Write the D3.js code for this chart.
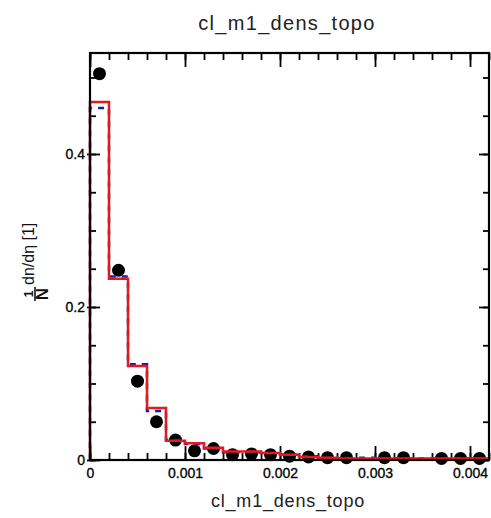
<!DOCTYPE html>
<html>
<head>
<meta charset="utf-8">
<script src="https://cdn.jsdelivr.net/npm/d3@7"></script>
<style>
  body { margin: 0; background: #fff; }
  svg { display: block; font-family: "Liberation Sans", Arial, Helvetica, sans-serif; }
</style>
</head>
<body>
<div id="chart"></div>
<script>
// bornes basses des bins (largeur 0.0002)
const binStarts = [0, 0.0002, 0.0004, 0.0006, 0.0008, 0.0010, 0.0012, 0.0014, 0.0016, 0.0018,
  0.0020, 0.0022, 0.0024, 0.0026, 0.0028, 0.0030, 0.0032, 0.0034, 0.0036, 0.0038, 0.0040];
const binWidth = 0.0002;

// histogramme rouge (trait plein)
const redValues = [0.468, 0.237, 0.123, 0.068, 0.025, 0.022, 0.016, 0.011, 0.011, 0.009,
  0.007, 0.004, 0.003, 0.002, 0.002, 0.002, 0.002, 0.002, 0.002, 0.002, 0.002];

// histogramme bleu (tirets)
const blueValues = [0.460, 0.240, 0.125, 0.064, 0.026, 0.021, 0.015, 0.010, 0.010, 0.009,
  0.007, 0.005, 0.003, 0.002, 0.003, 0.002, 0.002, 0.002, 0.002, 0.002, 0.002];

// points noirs (données), null = pas de point
const dataValues = [0.505, 0.248, 0.103, 0.050, 0.026, 0.012, 0.015, 0.007, 0.008, 0.007,
  0.005, 0.004, 0.003, 0.003, null, 0.003, 0.003, null, 0.002, 0.002, 0.002];

const xTicksMajor = [0, 0.001, 0.002, 0.003, 0.004];
const yTicksMajor = [0, 0.2, 0.4];

const title = "cl_m1_dens_topo";
const xTitle = "cl_m1_dens_topo";

//---------------------------------------------------------------------------------------

const W = 491, H = 518;
const plot = { left: 90, right: 489, top: 53, bottom: 460 };

const svg = d3.select("#chart")
  .append("svg")
  .attr("width", W)
  .attr("height", H);

const x = d3.scaleLinear().domain([0, 0.0042]).range([plot.left, plot.right]);
const y = d3.scaleLinear().domain([0, 0.532]).range([plot.bottom, plot.top]);

const xMinor = d3.range(0, 0.00421, 0.0002);
const yMinor = d3.range(0, 0.531, 0.05);

const fmtX = d => d === 0 ? "0" : d3.format(".3f")(d);
const fmtY = d => d === 0 ? "0" : d3.format(".1f")(d);

// axes : ticks vers l'intérieur
function drawAxis(axisFn, scale, ticks, size, transform, fmt) {
  const g = svg.append("g")
    .attr("transform", transform)
    .call(axisFn(scale).tickValues(ticks).tickSize(size).tickSizeOuter(0).tickFormat(fmt || ""));
  g.select(".domain").remove();
  g.selectAll(".tick line").attr("stroke", "#000").attr("stroke-width", 1.8);
  return g;
}

// minors
drawAxis(d3.axisBottom, x, xMinor, -7, `translate(0,${plot.bottom})`);
drawAxis(d3.axisTop, x, xMinor, -7, `translate(0,${plot.top})`);
drawAxis(d3.axisLeft, y, yMinor, -6, `translate(${plot.left},0)`);
drawAxis(d3.axisRight, y, yMinor, -6, `translate(${plot.right},0)`);

// majors
const gx = drawAxis(d3.axisBottom, x, xTicksMajor, -14, `translate(0,${plot.bottom})`, fmtX);
gx.selectAll(".tick text")
  .attr("y", 8).attr("dy", "0.71em")
  .attr("font-size", 14).attr("fill", "#000")
  .attr("stroke", "#000").attr("stroke-width", 0.3);
drawAxis(d3.axisTop, x, xTicksMajor, -14, `translate(0,${plot.top})`);

const gy = drawAxis(d3.axisLeft, y, yTicksMajor, -10, `translate(${plot.left},0)`, fmtY);
gy.selectAll(".tick text")
  .attr("x", -5)
  .attr("font-size", 14).attr("fill", "#000")
  .attr("stroke", "#000").attr("stroke-width", 0.3);
gy.selectAll(".tick line").attr("x1", -3);
drawAxis(d3.axisRight, y, yTicksMajor, -10, `translate(${plot.right},0)`);

//---------------------------------------------------------------------------------------

// points noirs
const pts = binStarts.map((b, i) => ({ x: b + binWidth / 2, v: dataValues[i] }))
  .filter(d => d.v !== null);

svg.append("g")
  .selectAll("circle")
  .data(pts)
  .join("circle")
  .attr("cx", d => x(d.x))
  .attr("cy", d => y(d.v))
  .attr("r", 6.5)
  .attr("fill", "#000");

// histogrammes en escalier
const stepLine = d3.line()
  .x(d => x(d[0]))
  .y(d => y(d[1]))
  .curve(d3.curveStepAfter);

function steps(values) {
  const s = [[0, 0]];
  binStarts.forEach((b, i) => s.push([b, values[i]]));
  s.push([binStarts[binStarts.length - 1] + binWidth, values[values.length - 1]]);
  return s;
}

svg.append("path")
  .datum(steps(blueValues))
  .attr("d", stepLine)
  .attr("fill", "none")
  .attr("stroke", "#1c1ca8")
  .attr("stroke-width", 2.5)
  .attr("stroke-dasharray", "6,6");

svg.append("path")
  .datum(steps(redValues))
  .attr("d", stepLine)
  .attr("fill", "none")
  .attr("stroke", "#e3191f")
  .attr("stroke-width", 2.5);

// cadre
svg.append("rect")
  .attr("x", plot.left)
  .attr("y", plot.top)
  .attr("width", plot.right - plot.left)
  .attr("height", plot.bottom - plot.top)
  .attr("fill", "none")
  .attr("stroke", "#000")
  .attr("stroke-width", 2.2);

//---------------------------------------------------------------------------------------

// titres
svg.append("text")
  .attr("x", 287)
  .attr("y", 30)
  .attr("text-anchor", "middle")
  .attr("font-size", 20)
  .attr("letter-spacing", 1.3)
  .attr("fill", "#222")
  .text(title);

svg.append("text")
  .attr("x", 288)
  .attr("y", 507)
  .attr("text-anchor", "middle")
  .attr("font-size", 18)
  .attr("letter-spacing", 0.8)
  .attr("fill", "#222")
  .text(xTitle);

// titre axe y : 1/N dn/dη [1]
const yl = svg.append("g")
  .attr("transform", "translate(36,294) rotate(-90)")
  .attr("fill", "#111");

yl.append("text")
  .attr("x", 0).attr("y", -3)
  .attr("text-anchor", "middle")
  .attr("font-size", 12)
  .attr("font-weight", "bold")
  .text("1");
yl.append("line")
  .attr("x1", -7).attr("x2", 7)
  .attr("y1", -1).attr("y2", -1)
  .attr("stroke", "#111").attr("stroke-width", 1.6);
yl.append("text")
  .attr("x", 0).attr("y", 12)
  .attr("text-anchor", "middle")
  .attr("font-size", 17)
  .attr("font-weight", "bold")
  .text("N");
yl.append("text")
  .attr("x", 9).attr("y", -2)
  .attr("font-size", 16)
  .text("dn/dη [1]");
</script>
</body>
</html>
